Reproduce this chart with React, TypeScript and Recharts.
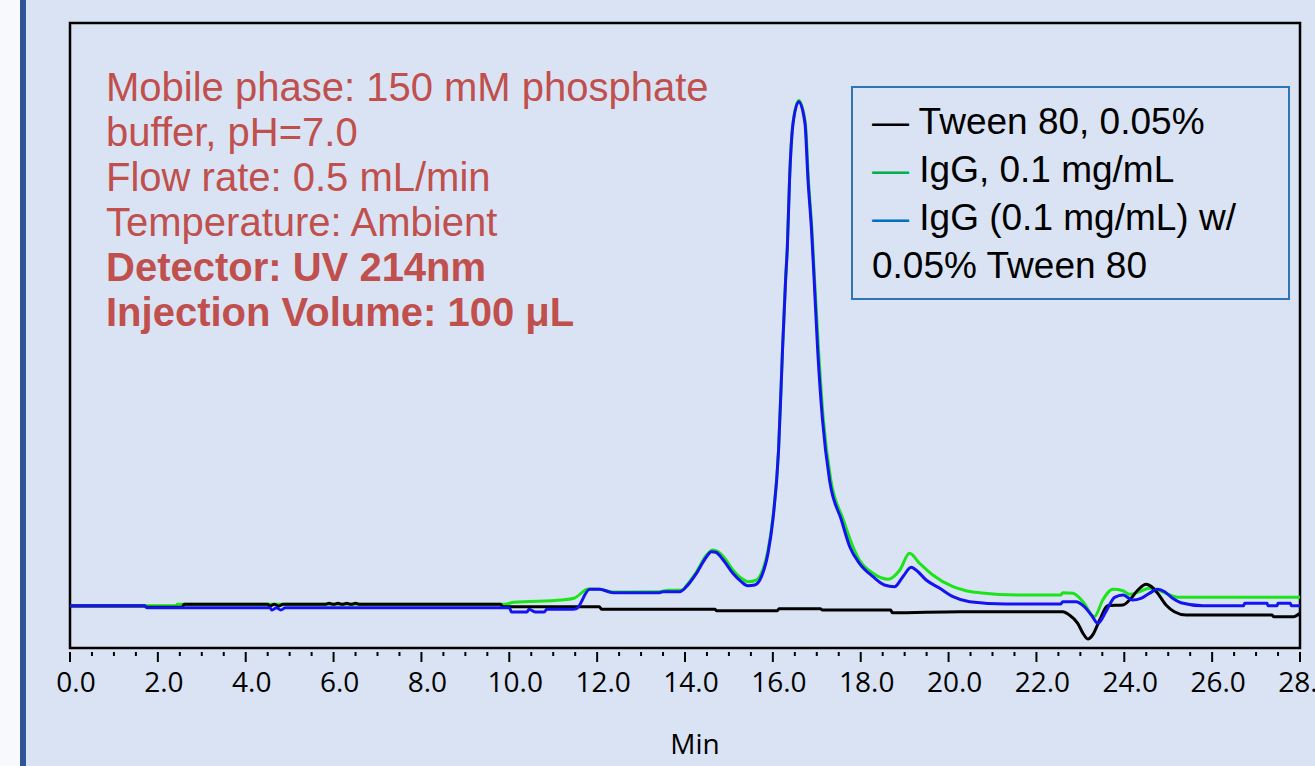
import React from "react";
import { LineChart, Line, XAxis, YAxis, ReferenceArea } from "recharts";

// retention time (min) / detector signal (mAU, baseline ~0)
const tweenTime = [
  0, 1.7, 1.75, 2.55, 2.6, 4.5, 4.55, 4.65, 4.75, 4.85,
  5.8, 5.9, 6.0, 6.1, 6.2, 6.3, 6.4, 6.5, 6.6, 9.8,
  9.85, 12.05, 12.1, 14.68, 14.72, 16.1, 16.14, 17.08, 17.12, 18.68,
  18.72, 20.25, 22.6, 22.75, 22.94, 23.06, 23.17, 23.28, 23.44, 23.62,
  23.97, 24.12, 24.31, 24.5, 24.6, 24.76, 24.95, 25.14, 25.41, 27.36,
  27.4, 27.85, 28,
];
const tweenSignal = [
  -0.28, -0.28, -0.49, -0.49, -0.01, -0.01, -0.3, -0.01, -0.3, -0.01,
  -0.01, 0.15, -0.01, 0.15, -0.01, 0.15, -0.01, 0.15, -0.01, -0.01,
  -0.39, -0.39, -0.81, -0.81, -1.03, -1.03, -0.71, -0.71, -0.92, -0.92,
  -1.35, -1.19, -1.19, -1.72, -3.05, -4.65, -5.56, -4.92, -2.52, -0.23,
  -0.12, 0.68, 2.28, 3.19, 2.9, 1.75, -0.12, -1.19, -1.72, -1.72,
  -1.99, -1.99, -1.44,
];

const iggTime = [
  0, 2.4, 2.45, 9.9, 10.1, 11.2, 11.47, 11.8, 12.06, 12.36,
  13.42, 13.6, 13.95, 14.03, 14.26, 14.49, 14.63, 14.75, 14.9, 15.09,
  15.28, 15.45, 15.6, 15.74, 15.89, 16.0, 16.13, 16.22, 16.29, 16.33,
  16.38, 16.46, 16.59, 16.74, 16.81, 16.89, 16.95, 17.04, 17.15, 17.32,
  17.6, 17.8, 17.97, 18.28, 18.62, 18.89, 19.11, 19.34, 19.64, 20.1,
  20.4, 20.7, 21.6, 22.55, 22.6, 22.83, 23.06, 23.32, 23.51, 23.74,
  23.97, 24.12, 24.35, 24.57, 24.73, 24.95, 25.26, 28,
];
const iggSignal = [
  -0.23, -0.23, -0.01, -0.01, 0.31, 0.68, 0.95, 2.44, 2.39, 1.96,
  2.01, 2.23, 2.28, 2.97, 5.16, 7.88, 8.68, 8.44, 7.4, 5.48,
  4.15, 3.61, 3.8, 5.0, 8.68, 13.8, 24.8, 40.8, 52.0, 57.3,
  68.0, 77.1, 80.6, 77.0, 67.9, 59.9, 51.9, 40.7, 29.5, 19.9,
  13.6, 9.6, 7.08, 4.95, 3.99, 5.48, 8.15, 6.55, 4.68, 2.81,
  2.17, 1.85, 1.48, 1.48, 1.85, 1.75, 0.41, -1.99, 0.68, 2.39,
  2.17, 1.59, 2.01, 2.55, 2.39, 1.75, 1.11, 1.11,
];

const mixTime = [
  0, 1.7, 1.75, 4.55, 4.6, 4.7, 4.8, 4.9, 10.0, 10.05,
  10.4, 10.45, 10.6, 10.8, 10.85, 11.45, 11.53, 11.83, 12.06, 12.36,
  13.42, 13.5, 13.88, 14.03, 14.26, 14.49, 14.6, 14.7, 14.87, 15.09,
  15.28, 15.43, 15.59, 15.74, 15.89, 16.0, 16.13, 16.22, 16.29, 16.33,
  16.38, 16.46, 16.59, 16.73, 16.8, 16.88, 16.94, 17.02, 17.13, 17.29,
  17.56, 17.75, 17.97, 18.28, 18.54, 18.77, 18.96, 19.15, 19.26, 19.49,
  19.8, 20.1, 20.48, 21.31, 22.55, 22.6, 22.9, 23.09, 23.25, 23.4,
  23.58, 23.78, 23.97, 24.19, 24.38, 24.57, 24.76, 24.92, 25.1, 25.29,
  25.79, 26.72, 26.74, 27.25, 27.27, 27.48, 27.5, 27.78, 27.8, 28,
];
const mixSignal = [
  -0.23, -0.23, -0.55, -0.55, -0.92, -0.55, -0.92, -0.55, -0.55, -1.24,
  -1.24, -0.81, -1.24, -1.24, -0.81, -0.81, -0.7, 2.39, 2.39, 1.85,
  1.85, 2.01, 2.01, 2.81, 4.95, 7.61, 8.41, 8.31, 7.08, 4.95,
  3.61, 2.97, 3.08, 4.41, 8.15, 13.48, 24.68, 40.68, 51.88, 57.2,
  67.88, 76.95, 80.41, 77.0, 67.88, 59.88, 51.88, 40.68, 29.48, 19.88,
  13.48, 9.21, 6.55, 4.41, 3.08, 2.81, 4.41, 5.91, 5.48, 3.88,
  2.55, 1.21, 0.41, 0.04, 0.04, 0.41, 0.41, -0.39, -1.72, -3.05,
  -1.19, 1.11, 1.48, 0.68, 0.95, 1.75, 2.39, 2.01, 0.95, 0.25,
  -0.23, -0.23, 0.15, 0.15, -0.23, -0.23, 0.15, 0.15, -0.23, -0.23,
];

const majorTicks = [0, 2, 4, 6, 8, 10, 12, 14, 16, 18, 20, 22, 24, 26, 28];
const minorTicks = majorTicks.slice(0, -1).flatMap((m) => [m + 0.5, m + 1, m + 1.5]);
const allTicks = [...majorTicks, ...minorTicks].sort((a, b) => a - b);

const conditions = [
  { text: "Mobile phase: 150 mM phosphate", bold: false },
  { text: "buffer, pH=7.0", bold: false },
  { text: "Flow rate: 0.5 mL/min", bold: false },
  { text: "Temperature: Ambient", bold: false },
  { text: "Detector: UV 214nm", bold: true },
  { text: "Injection Volume: 100 \u03bcL", bold: true },
];

const toPoints = (time: number[], signal: number[]) =>
  time.map((t, i) => ({ t, v: signal[i] }));

const tweenData = toPoints(tweenTime, tweenSignal);
const iggData = toPoints(iggTime, iggSignal);
const mixData = toPoints(mixTime, mixSignal);

const BG = "#dae3f3";

function TimeTick(props: any) {
  const { x, y, payload } = props;
  const val = payload.value as number;
  const major = majorTicks.includes(val);
  return (
    <g>
      <line
        x1={x}
        x2={x}
        y1={y + 4}
        y2={y + (major ? 14 : 8)}
        stroke="#000"
        strokeWidth={2}
      />
      {major && (
        <text
          x={x + 6}
          y={y + 44}
          textAnchor="middle"
          fontFamily="'Open Sans', sans-serif"
          fontSize={28}
          fill="#000"
        >
          {val.toFixed(1)}
        </text>
      )}
    </g>
  );
}

export default function App() {
  return (
    <div
      style={{
        position: "fixed",
        left: 0,
        top: 0,
        width: 1315,
        height: 766,
        overflow: "hidden",
        background: BG,
        fontFamily: "'Liberation Sans', Arial, sans-serif",
      }}
    >
      <div style={{ position: "absolute", left: 0, top: 0, width: 20, height: 766, background: "#f7f9fc" }} />
      <div style={{ position: "absolute", left: 20, top: 0, width: 6, height: 766, background: "#2f5597" }} />

      <div style={{ position: "absolute", left: 0, top: 0 }}>
        <LineChart
          width={1315}
          height={766}
          margin={{ top: 23, right: 15, bottom: 58, left: 70 }}
        >
          <XAxis
            dataKey="t"
            type="number"
            domain={[0, 28]}
            ticks={allTicks}
            interval={0}
            allowDataOverflow
            axisLine={false}
            tickLine={false}
            tickSize={0}
            tickMargin={0}
            height={60}
            tick={<TimeTick />}
          />
          <YAxis type="number" domain={[-7, 93]} hide allowDataOverflow />
          <ReferenceArea
            x1={0}
            x2={28}
            y1={-7}
            y2={93}
            fill="none"
            stroke="#000"
            strokeWidth={2.5}
            ifOverflow="visible"
          />
          <Line
            data={iggData}
            dataKey="v"
            type="monotone"
            stroke="#1be41b"
            strokeWidth={3}
            dot={false}
            isAnimationActive={false}
          />
          <Line
            data={tweenData}
            dataKey="v"
            type="monotone"
            stroke="#000000"
            strokeWidth={3}
            dot={false}
            isAnimationActive={false}
          />
          <Line
            data={mixData}
            dataKey="v"
            type="monotone"
            stroke="#1414f0"
            strokeWidth={3}
            dot={false}
            isAnimationActive={false}
          />
        </LineChart>
      </div>

      <div
        style={{
          position: "absolute",
          left: 106,
          top: 65,
          color: "#c0504d",
          fontSize: 40,
          lineHeight: "45px",
          whiteSpace: "nowrap",
        }}
      >
        {conditions.map((c) => (
          <div key={c.text} style={{ fontWeight: c.bold ? 700 : 400 }}>
            {c.text}
          </div>
        ))}
      </div>

      <div
        style={{
          position: "absolute",
          left: 851,
          top: 86,
          width: 435,
          height: 210,
          border: "2px solid #2e75b6",
          boxSizing: "content-box",
        }}
      >
        <div
          style={{
            position: "absolute",
            left: 19,
            top: 10,
            fontSize: 37,
            lineHeight: "48px",
            color: "#000",
            whiteSpace: "nowrap",
          }}
        >
          <div>
            <span style={{ color: "#000" }}>—</span> Tween 80, 0.05%
          </div>
          <div>
            <span style={{ color: "#00b050" }}>—</span> IgG, 0.1 mg/mL
          </div>
          <div>
            <span style={{ color: "#0070c0" }}>—</span> IgG (0.1 mg/mL) w/
          </div>
          <div>0.05% Tween 80</div>
        </div>
      </div>

      <div
        style={{
          position: "absolute",
          left: 0,
          width: 1390,
          top: 724,
          textAlign: "center",
          fontFamily: "'Open Sans', sans-serif",
          fontSize: 28,
          color: "#000",
        }}
      >
        Min
      </div>
    </div>
  );
}
